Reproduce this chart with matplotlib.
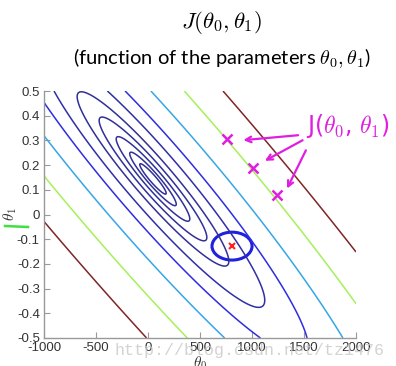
import numpy as np
import matplotlib
matplotlib.use("Agg")
import matplotlib.pyplot as plt
from matplotlib.patches import Ellipse
from matplotlib.lines import Line2D

plt.rcParams['mathtext.fontset'] = 'cm'

# ---- data ----
theta0_lim = [-1000, 2000]
theta1_lim = [-0.5, 0.5]
x_ticks = [-1000, -500, 0, 500, 1000, 1500, 2000]
x_ticklabels = ['-1000', '-500', '0', '500', '1000', '1500', '2000']
y_ticks = [0.5, 0.4, 0.3, 0.2, 0.1, 0, -0.1, -0.2, -0.3, -0.4, -0.5]
y_ticklabels = ['0.5', '0.4', '0.3', '0.2', '0.1', '0', '-0.1', '-0.2', '-0.3', '-0.4', '-0.5']

# quadratic cost J = a*d0^2 + b*d0*d1 + c*d1^2 around its minimum
cost_min = [48.0, 0.144]
cost_a = 0.006327
cost_b = 24.705
cost_c = 27016.0
contour_levels = [11, 34, 85, 182, 361, 784, 1521, 3249, 6642, 12210]
contour_colors = ['#30309a', '#30309a', '#30309a', '#30309a', '#30309a',
                  '#2f2fa8', '#2e2ee0', '#36a6e6', '#a6f05a', '#7f2626']

# annotation points
mark_t0 = [760, 1010, 1240]
mark_t1 = [0.306, 0.188, 0.079]
arrow_tail_t0 = [1470, 1510, 1530]
arrow_tail_t1 = [0.322, 0.306, 0.270]
arrow_head_t0 = [890, 1100, 1325]
arrow_head_t1 = [0.300, 0.212, 0.095]
red_point = [808, -0.128]
circle_size = [385, 0.113]

# ---- figure ----
fig = plt.figure(figsize=(3.96, 3.66), dpi=100)
ax = fig.add_axes([44/396, 1-338/366, 312/396, 247/366])

t0 = np.linspace(theta0_lim[0], theta0_lim[1], 600)
t1 = np.linspace(theta1_lim[0], theta1_lim[1], 600)
T0, T1 = np.meshgrid(t0, t1)
D0 = T0 - cost_min[0]
D1 = T1 - cost_min[1]
J = cost_a*D0**2 + cost_b*D0*D1 + cost_c*D1**2

ax.contour(T0, T1, J, levels=contour_levels, colors=contour_colors, linewidths=1.1)

ax.set_xlim(theta0_lim)
ax.set_ylim(theta1_lim)
ax.set_xticks(x_ticks)
ax.set_xticklabels(x_ticklabels)
ax.set_yticks(y_ticks)
ax.set_yticklabels(y_ticklabels)
for s in ['top', 'right']:
    ax.spines[s].set_visible(False)
for s in ['left', 'bottom']:
    ax.spines[s].set_color('#999999')
    ax.spines[s].set_linewidth(1.0)
ax.tick_params(direction='in', length=4, color='#999999', labelsize=9.5,
               labelcolor='#333333', pad=3)
for lab in ax.get_xticklabels() + ax.get_yticklabels():
    lab.set_family('Liberation Sans')

ax.set_xlabel(r'$\theta_0$', fontsize=11, color='#333333')
ax.xaxis.set_label_coords(0.5, -0.068)
ax.set_ylabel(r'$\theta_1$', fontsize=11, color='#333333')
ax.yaxis.set_label_coords(-0.08, 0.5)

# titles
fig.text(222/396, 1-23/366, r'$J(\theta_0,\theta_1)$', ha='center', va='center', fontsize=16.5)
fig.text(222/396, 1-58/366, r'(function of the parameters $\theta_0,\theta_1$)',
         ha='center', va='center', fontsize=14.5, family='Lato')

# handwritten-like annotations
mag = '#e01ee0'
ax.plot(mark_t0, mark_t1, 'x', color=mag, ms=7, mew=1.8, clip_on=False)
for xt, yt, xh, yh in zip(arrow_tail_t0, arrow_tail_t1, arrow_head_t0, arrow_head_t1):
    ax.annotate('', xy=(xh, yh), xytext=(xt, yt),
                arrowprops=dict(arrowstyle='->', color=mag, lw=1.6,
                                mutation_scale=10), annotation_clip=False)
fig.text(306/396, 1-126/366, r'J($\theta_0$, $\theta_1$)', color=mag, fontsize=17,
         ha='left', va='center')

ax.add_patch(Ellipse(red_point, circle_size[0], circle_size[1], fill=False,
                     edgecolor='#2020e0', lw=2.2))
ax.plot([red_point[0]], [red_point[1]], 'x', color='#ff2020', ms=5, mew=1.5)

fig.add_artist(Line2D([5/396, 28/396], [1-226/366, 1-227/366], color='#40e040', lw=1.8))

fig.text(115/396, 1-350/366, 'http://blog.csdn.net/tz1476', family='Liberation Mono',
         fontsize=12, color='#c8c8c8', alpha=0.8, va='center')

fig.savefig('out.png', dpi=100)
